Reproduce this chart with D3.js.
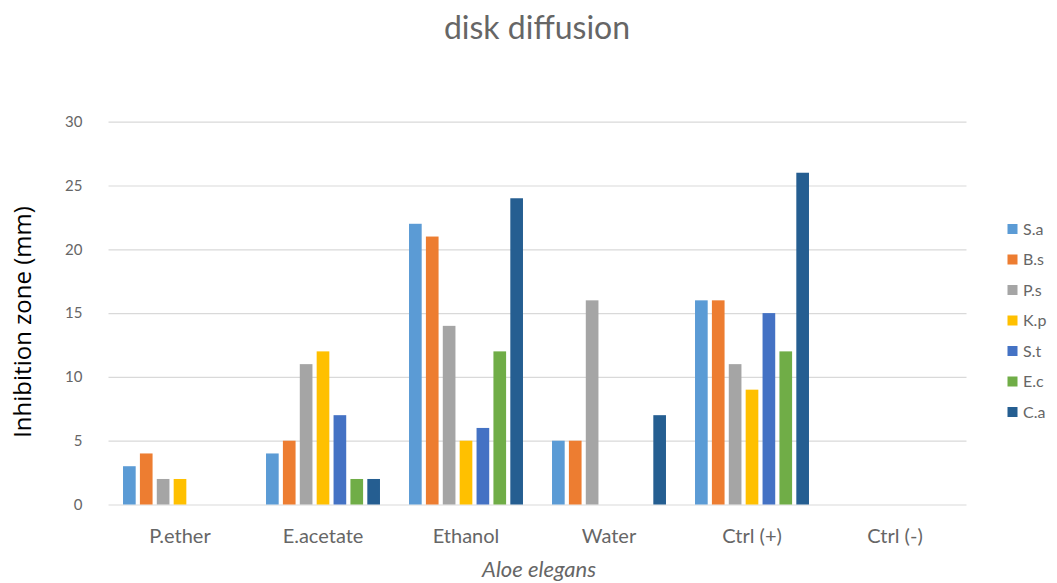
<!DOCTYPE html>
<html>
<head>
<meta charset="utf-8">
<script src="https://cdn.jsdelivr.net/npm/d3@7"></script>
<style>
  html, body { margin: 0; padding: 0; background: #ffffff; }
  svg { display: block; }
</style>
</head>
<body>
<svg id="chart" width="1057" height="583"></svg>
<script>
const categories = ["P.ether", "E.acetate", "Ethanol", "Water", "Ctrl (+)", "Ctrl (-)"];
const seriesNames = ["S.a", "B.s", "P.s", "K.p", "S.t", "E.c", "C.a"];
const seriesColors = ["#5B9BD5", "#ED7D31", "#A5A5A5", "#FFC000", "#4472C4", "#70AD47", "#255E91"];
const S_a = [3, 4, 22, 5, 16, 0];
const B_s = [4, 5, 21, 5, 16, 0];
const P_s = [2, 11, 14, 16, 11, 0];
const K_p = [2, 12, 5, 0, 9, 0];
const S_t = [0, 7, 6, 0, 15, 0];
const E_c = [0, 2, 12, 0, 12, 0];
const C_a = [0, 2, 24, 7, 26, 0];
const yTicks = [0, 5, 10, 15, 20, 25, 30];
const titleText = "disk diffusion";
const xTitle = "Aloe elegans";
const yTitle = "Inhibition zone (mm)";

const seriesValues = [S_a, B_s, P_s, K_p, S_t, E_c, C_a];

const svg = d3.select("#chart");
const plotLeft = 108.5, plotRight = 966.5, plotTop = 121.7, plotBottom = 504.5;

const x0 = d3.scaleBand().domain(categories).range([plotLeft, plotRight]).padding(0);
const x1 = d3.scaleBand().domain(seriesNames).range([0, x0.bandwidth()])
  .paddingInner(0.25).paddingOuter(0.86);
const y = d3.scaleLinear().domain([0, 30]).range([plotBottom, plotTop]);

// gridlines
const yAxis = d3.axisLeft(y).tickValues(yTicks).tickSize(-(plotRight - plotLeft)).tickFormat(d3.format("d"));
const gy = svg.append("g").attr("transform", `translate(${plotLeft},0)`).call(yAxis);
gy.select(".domain").remove();
gy.selectAll(".tick line").attr("stroke", "#d9d9d9").attr("stroke-width", 1.2);
gy.selectAll(".tick text")
  .attr("x", -26)
  .attr("fill", "#666666")
  .style("font-family", "Lato, 'Open Sans', sans-serif")
  .style("font-size", "15px");

// bars
const groups = svg.append("g").selectAll("g")
  .data(categories)
  .join("g")
  .attr("transform", d => `translate(${x0(d)},0)`);

groups.selectAll("rect")
  .data((c, i) => seriesNames.map((s, j) => ({ s, v: seriesValues[j][i], color: seriesColors[j] })))
  .join("rect")
  .attr("x", d => x1(d.s))
  .attr("width", x1.bandwidth())
  .attr("y", d => y(d.v))
  .attr("height", d => y(0) - y(d.v))
  .attr("fill", d => d.color);

// x axis labels
const xAxis = d3.axisBottom(x0).tickSize(0).tickPadding(0);
const gx = svg.append("g").attr("transform", `translate(0,${plotBottom})`).call(xAxis);
gx.select(".domain").remove();
gx.selectAll(".tick text")
  .attr("y", 38)
  .attr("dy", 0)
  .attr("fill", "#666666")
  .style("font-family", "Lato, 'Open Sans', sans-serif")
  .style("font-size", "20px");

// title
svg.append("text")
  .attr("x", 537).attr("y", 39)
  .attr("text-anchor", "middle")
  .attr("fill", "#666666")
  .style("font-family", "Lato, 'Open Sans', sans-serif")
  .style("font-size", "32px")
  .text(titleText);

// x title
svg.append("text")
  .attr("x", 539).attr("y", 577)
  .attr("text-anchor", "middle")
  .attr("fill", "#666666")
  .style("font-family", "Lato, 'Open Sans', sans-serif")
  .style("font-style", "italic")
  .style("font-size", "22px")
  .text(xTitle);

// y title
svg.append("text")
  .attr("transform", "translate(31,322) rotate(-90)")
  .attr("text-anchor", "middle")
  .attr("fill", "#000000")
  .style("font-family", "'Open Sans', sans-serif")
  .style("font-size", "24px")
  .text(yTitle);

// legend
const legend = svg.append("g").selectAll("g")
  .data(seriesNames)
  .join("g")
  .attr("transform", (d, i) => `translate(1007.5,${229 + i * 30.5})`);
legend.append("rect")
  .attr("x", 0).attr("y", -5).attr("width", 10).attr("height", 10)
  .attr("fill", (d, i) => seriesColors[i]);
legend.append("text")
  .attr("x", 15.5).attr("y", 0).attr("dy", "0.35em")
  .attr("fill", "#666666")
  .style("font-family", "Lato, 'Open Sans', sans-serif")
  .style("font-size", "16px")
  .text(d => d);
</script>
</body>
</html>
